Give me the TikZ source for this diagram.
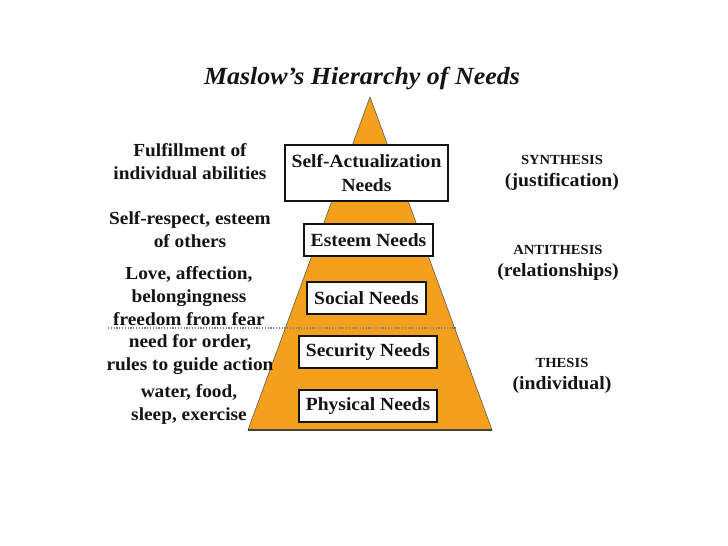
\documentclass[tikz,border=0pt]{standalone}
\usepackage{fontspec}
\setmainfont{Liberation Serif}[FakeStretch=1.05]
\definecolor{pyr}{RGB}{245,160,28}
\definecolor{ink}{RGB}{20,20,20}
\begin{document}
\begin{tikzpicture}[x=1pt,y=-1pt,
  needbox/.style={draw=ink,line width=2pt,fill=white,inner sep=0pt,font=\fontsize{18.6}{24}\selectfont\bfseries,text=ink,align=center},
  lefttxt/.style={font=\fontsize{18.4}{23}\selectfont\bfseries,text=ink,align=center,inner sep=0pt},
  smallcap/.style={font=\fontsize{13.9}{15}\selectfont\bfseries,text=ink,inner sep=0pt},
  paren/.style={font=\fontsize{18.8}{20}\selectfont\bfseries,text=ink,inner sep=0pt}]
\useasboundingbox[fill=white] (0,0) rectangle (728,546);
% title
\node[font=\fontsize{24.7}{28}\selectfont\bfseries\itshape,text=ink,inner sep=0pt] (title) at (362,78) {Maslow’s Hierarchy of Needs};
% pyramid
\fill[pyr,draw=ink!70,line width=0.6pt] (370,97) -- (492,430) -- (248,430) -- cycle;
\draw[ink!80,line width=1.2pt] (248,430) -- (492,430);
% dotted separator
\coordinate (dl) at (108,328);
\coordinate (dr) at (457,328);
\draw[gray,line width=1.3pt,dash pattern=on 1.2pt off 1.6pt] (dl) -- (dr);
% boxes
\node[needbox,minimum width=163pt,minimum height=56pt] (self) at (366.5,173) {Self-Actualization\\Needs};
\node[needbox,minimum width=129pt,minimum height=32pt] (esteem) at (368.5,240) {Esteem Needs};
\node[needbox,minimum width=119pt,minimum height=32pt] (social) at (366.5,298) {Social Needs};
\node[needbox,minimum width=138pt,minimum height=32pt] (security) at (368,352) {Security Needs};
\node[needbox,minimum width=138pt,minimum height=32pt] (physical) at (368,406) {Physical Needs};
% left texts
\node[lefttxt] (l1) at (190,161.5) {Fulfillment of\\individual abilities};
\node[lefttxt] (l2) at (190,229.5) {Self-respect, esteem\\of others};
\node[lefttxt] (l3) at (189,296) {Love, affection,\\belongingness\\freedom from fear};
\node[lefttxt] (l4) at (190,355) {need for order,\\rules to guide action};
\node[lefttxt] (l5) at (189,404.5) {water, food,\\sleep, exercise};
% right texts
\node[smallcap] (r1a) at (562,160) {SYNTHESIS};
\node[paren] (r1b) at (562,182) {(justification)};
\node[smallcap] (r2a) at (558,250) {ANTITHESIS};
\node[paren] (r2b) at (558,272) {(relationships)};
\node[smallcap] (r3a) at (562,363) {THESIS};
\node[paren] (r3b) at (562,385) {(individual)};
\end{tikzpicture}
\end{document}
